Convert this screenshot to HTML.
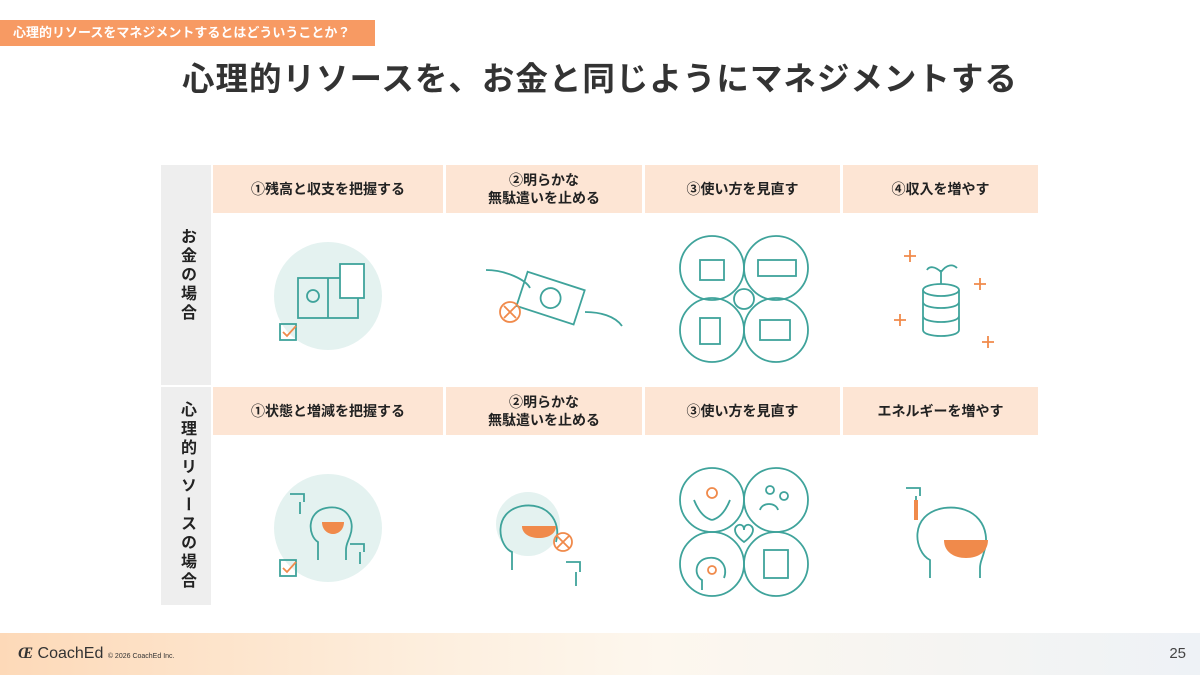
<!DOCTYPE html>
<html><head><meta charset="utf-8"><style>
body{margin:0;width:1200px;height:675px;position:relative;background:#fff;font-family:"Liberation Sans","Noto Sans CJK JP",sans-serif;overflow:hidden}
.tag{position:absolute;left:0;top:20px;width:375px;height:26px;background:#f79a63;color:#fff;font-size:13px;line-height:26px;padding-left:13px;box-sizing:border-box;font-weight:bold}
.title{position:absolute;left:0;width:1200px;top:53px;text-align:center;font-size:32.5px;font-weight:bold;color:#333;letter-spacing:1px}
.side{position:absolute;left:161px;width:50px;background:#eeeeee;display:flex;align-items:center;justify-content:center;font-weight:bold;font-size:16px;color:#222;writing-mode:vertical-rl;text-orientation:upright;letter-spacing:3px}
.h{position:absolute;height:48px;background:#fde5d4;display:flex;align-items:center;justify-content:center;text-align:center;font-weight:bold;font-size:14px;color:#222;line-height:18px}
.foot{position:absolute;left:0;top:633px;width:1200px;height:42px;background:linear-gradient(90deg,#fdd9b8,#fdeedd 35%,#fdf7ee 55%,#eef2f6)}
svg{position:absolute}
</style></head><body>
<div class="tag">心理的リソースをマネジメントするとはどういうことか？</div>
<div class="title">心理的リソースを、お金と同じようにマネジメントする</div>
<div class="side" style="top:165px;height:220px">お金の場合</div>
<div class="side" style="top:387px;height:218px">心理的リソースの場合</div>
<div class="h" style="left:213px;top:165px;width:230px">①残高と収支を把握する</div>
<div class="h" style="left:446px;top:165px;width:196px">②明らかな<br>無駄遣いを止める</div>
<div class="h" style="left:645px;top:165px;width:195px">③使い方を見直す</div>
<div class="h" style="left:843px;top:165px;width:195px">④収入を増やす</div>
<div class="h" style="left:213px;top:387px;width:230px">①状態と増減を把握する</div>
<div class="h" style="left:446px;top:387px;width:196px">②明らかな<br>無駄遣いを止める</div>
<div class="h" style="left:645px;top:387px;width:195px">③使い方を見直す</div>
<div class="h" style="left:843px;top:387px;width:195px">エネルギーを増やす</div>
<svg width="1200" height="675" style="left:0;top:0" fill="none" stroke="#3fa39b" stroke-width="1.8">
<circle cx="328" cy="296" r="54" fill="#e4f2f0" stroke="none"/>
<rect x="298" y="278" width="60" height="40"/><line x1="328" y1="278" x2="328" y2="318"/>
<rect x="340" y="264" width="24" height="34" fill="#fff"/><circle cx="313" cy="296" r="6"/>
<rect x="280" y="324" width="16" height="16"/><path d="M283 332l4 4 9-10" stroke="#f08a4b"/>
<g transform="rotate(18 550 300)"><rect x="520" y="280" width="60" height="36" fill="#fff"/><circle cx="550" cy="298" r="10"/></g>
<path d="M486 270c20 0 40 10 44 18" /><path d="M585 312c15 0 30 4 37 14"/>
<circle cx="510" cy="312" r="10" stroke="#f08a4b"/><path d="M504 306l12 12M516 306l-12 12" stroke="#f08a4b"/>
<circle cx="712" cy="268" r="32"/><circle cx="776" cy="268" r="32"/><circle cx="712" cy="330" r="32"/><circle cx="776" cy="330" r="32"/>
<circle cx="744" cy="299" r="10" fill="#fff"/>
<rect x="700" y="260" width="24" height="20"/><rect x="758" y="260" width="38" height="16"/><rect x="700" y="318" width="20" height="26"/><rect x="760" y="320" width="30" height="20"/>
<ellipse cx="941" cy="290" rx="18" ry="6"/><path d="M923 290v40M959 290v40M923 302c0 8 36 8 36 0M923 316c0 8 36 8 36 0M923 330c0 8 36 8 36 0"/>
<path d="M941 284v-14M941 272c-6-6-12-6-14-2M941 272c6-8 12-8 16-4"/>
<g stroke="#f08a4b"><path d="M910 250v12M904 256h12M980 278v12M974 284h12M900 314v12M894 320h12M988 336v12M982 342h12"/></g>
<circle cx="328" cy="528" r="54" fill="#e4f2f0" stroke="none"/>
<path d="M318 560v-18c-10-6-12-30 8-34 20-4 30 12 24 28-2 6-4 8-4 14v10"/>
<path d="M322 522h22c0 8-6 12-11 12s-11-4-11-12z" fill="#f08a4b" stroke="none"/>
<path d="M290 494h14v8M300 502v12"/><path d="M350 544h14v8M360 552v12"/>
<rect x="280" y="560" width="16" height="16"/><path d="M283 568l4 4 9-10" stroke="#f08a4b"/>
<circle cx="528" cy="524" r="32" fill="#e4f2f0" stroke="none"/>
<path d="M512 570v-18c-14-6-20-40 10-46 24-4 40 14 34 36"/>
<path d="M522 526h34c0 8-8 12-17 12s-17-4-17-12z" fill="#f08a4b" stroke="none"/>
<circle cx="563" cy="542" r="9" stroke="#f08a4b"/><path d="M557 536l12 12M569 536l-12 12" stroke="#f08a4b"/>
<path d="M566 562h14v10M576 572v14"/>
<circle cx="712" cy="500" r="32"/><circle cx="776" cy="500" r="32"/><circle cx="712" cy="564" r="32"/><circle cx="776" cy="564" r="32"/>
<path d="M735 530c0-6 9-8 9 0 0-8 9-6 9 0 0 6-9 12-9 12s-9-6-9-12z" fill="#fff"/>
<path d="M694 500c4 10 10 18 18 20M730 500c-4 10-10 18-18 20"/><circle cx="712" cy="493" r="5" stroke="#f08a4b"/>
<circle cx="770" cy="490" r="4"/><circle cx="784" cy="496" r="4"/><path d="M760 510c2-8 16-8 18 0"/>
<path d="M702 590v-10c-8-4-8-20 6-22 14-2 20 10 16 20"/><circle cx="712" cy="570" r="4" stroke="#f08a4b"/>
<rect x="764" y="550" width="24" height="28"/>
<path d="M906 488h14v8M916 496v14" /><rect x="914" y="500" width="4" height="20" fill="#f08a4b" stroke="none"/>
<path d="M930 578v-18c-16-8-22-46 14-52 32-4 48 20 40 44-2 8-4 10-4 16v10"/>
<path d="M944 540h44c0 12-10 18-22 18s-22-6-22-18z" fill="#f08a4b" stroke="none"/>
</svg>
<div class="foot"></div>
<div style="position:absolute;left:18px;top:645px;font-size:16px;color:#333"><i style="font-family:'Liberation Serif',serif;font-weight:bold">Œ</i> CoachEd <span style="font-size:7px">© 2026 CoachEd Inc.</span></div>
<div style="position:absolute;right:14px;top:645px;font-size:15px;color:#444">25</div>
</body></html>
